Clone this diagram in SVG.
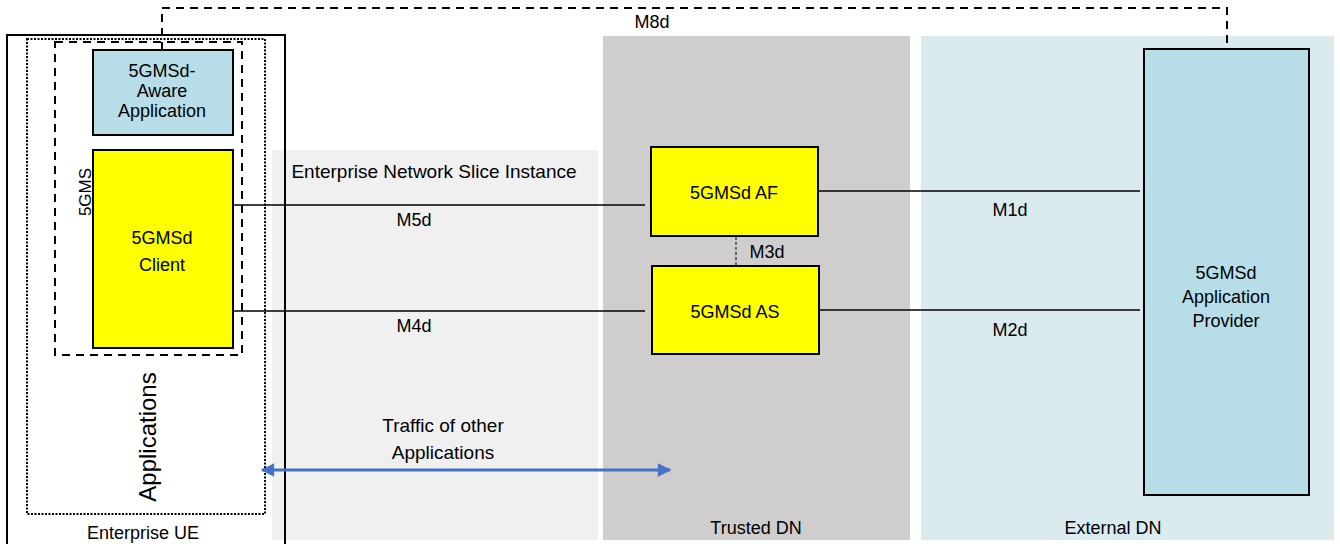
<svg xmlns="http://www.w3.org/2000/svg" width="1340" height="544" viewBox="0 0 1340 544">
<style>
text{font-family:"Liberation Sans",Arial,sans-serif;font-size:18px;fill:#000;text-anchor:middle}
.box{stroke:#000;stroke-width:2}
.ln{stroke:#000;stroke-width:1.5;fill:none}
.big{font-size:19px}
</style>
<defs>
<marker id="ah" viewBox="0 0 10 10" refX="9" refY="5" markerWidth="5" markerHeight="4.5" orient="auto-start-reverse"><path d="M0,0 L10,5 L0,10 z" fill="#4472c4"/></marker>
</defs>
<rect width="1340" height="544" fill="#fff"/>
<g id="zones">
<rect x="272" y="150" width="326" height="390" fill="#f0f0f0"/>
<rect x="603" y="36" width="307" height="504" fill="#cfcdce"/>
<rect x="921" y="36" width="413" height="504" fill="#daebf0"/>
<text x="434" y="178" class="big">Enterprise Network Slice Instance</text>
<text x="756" y="534">Trusted DN</text>
<text x="1113" y="534">External DN</text>
</g>
<g id="enterprise-ue">
<rect x="7" y="35" width="278" height="520" fill="none" stroke="#000" stroke-width="2"/>
<rect x="27" y="39" width="238" height="475" fill="none" stroke="#000" stroke-width="2" stroke-dasharray="2,1.5"/>
<rect x="55" y="42" width="187" height="313" fill="none" stroke="#000" stroke-width="2" stroke-dasharray="8,6"/>
<text x="143" y="539">Enterprise UE</text>
<text transform="translate(156,437) rotate(-90)" style="font-size:24px">Applications</text>
<text transform="translate(91,192) rotate(-90)" style="font-size:17px">5GMS</text>
</g>
<g id="connectors">
<path d="M162,50 V8 H1227 V49" fill="none" stroke="#000" stroke-width="2" stroke-dasharray="8,6"/>
<text x="652" y="28">M8d</text>
<line class="ln" x1="233" y1="205" x2="645" y2="205"/>
<text x="414" y="226">M5d</text>
<line class="ln" x1="233" y1="311" x2="645" y2="311"/>
<text x="414" y="332">M4d</text>
<line class="ln" x1="818" y1="191" x2="1140" y2="191"/>
<text x="1010" y="216">M1d</text>
<line class="ln" x1="819" y1="310" x2="1140" y2="310"/>
<text x="1010" y="336">M2d</text>
<line x1="736" y1="237" x2="736" y2="265" stroke="#000" stroke-width="1" stroke-dasharray="3,2"/>
<text x="767" y="258">M3d</text>
<line x1="262" y1="470" x2="670" y2="470" stroke="#4472c4" stroke-width="3" marker-start="url(#ah)" marker-end="url(#ah)"/>
<text x="443" y="432" class="big">Traffic of other</text>
<text x="443" y="459" class="big">Applications</text>
</g>
<g id="aware-app">
<rect class="box" x="93" y="50" width="140" height="85" fill="#b7dde8"/>
<text x="162" y="77">5GMSd-</text>
<text x="162" y="97">Aware</text>
<text x="162" y="117">Application</text>
</g>
<g id="client">
<rect class="box" x="93" y="150" width="140" height="198" fill="#ffff00"/>
<text x="162" y="244">5GMSd</text>
<text x="162" y="271">Client</text>
</g>
<g id="af">
<rect class="box" x="651" y="147" width="167" height="89" fill="#ffff00"/>
<text x="734" y="199">5GMSd AF</text>
</g>
<g id="as">
<rect class="box" x="652" y="266" width="167" height="88" fill="#ffff00"/>
<text x="735" y="318">5GMSd AS</text>
</g>
<g id="provider">
<rect class="box" x="1144" y="49" width="165" height="446" fill="#b7dde8"/>
<text x="1226" y="279">5GMSd</text>
<text x="1226" y="303">Application</text>
<text x="1226" y="327">Provider</text>
</g>
</svg>
